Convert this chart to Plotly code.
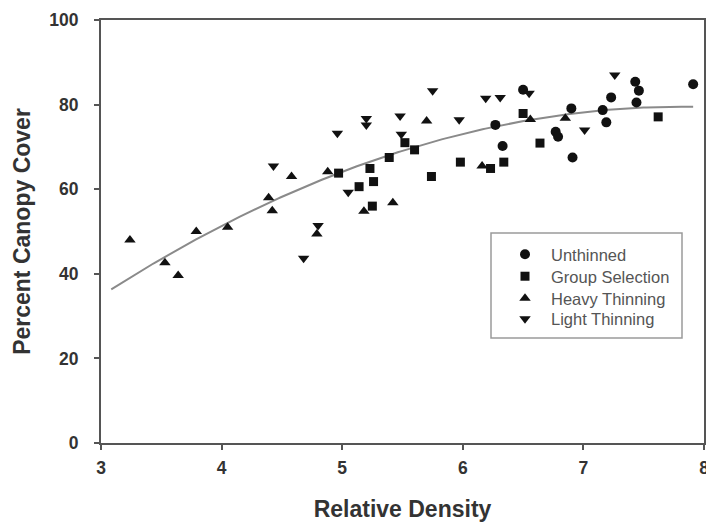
import numpy as np
import plotly.graph_objects as go

# Relative density vs. percent canopy cover, by treatment
unthinned_x = [6.27, 6.33, 6.50, 6.77, 6.79, 6.90, 6.91, 7.16, 7.19, 7.23, 7.43, 7.46, 7.44, 7.91]
unthinned_y = [75.2, 70.2, 83.5, 73.6, 72.4, 79.1, 67.5, 78.7, 75.8, 81.7, 85.4, 83.3, 80.5, 84.8]

group_x = [4.97, 5.23, 5.39, 5.26, 5.14, 5.25, 5.52, 5.60, 5.74, 5.98, 6.23, 6.34, 6.50, 6.64, 7.62]
group_y = [63.8, 64.9, 67.5, 61.8, 60.6, 56.0, 71.0, 69.3, 63.0, 66.4, 64.9, 66.4, 77.9, 70.9, 77.1]

heavy_x = [3.24, 3.53, 3.64, 3.79, 4.05, 4.39, 4.42, 4.58, 4.79, 4.88, 5.18, 5.42, 5.70, 6.16, 6.56, 6.85]
heavy_y = [48.0, 42.6, 39.6, 50.0, 51.0, 58.0, 54.9, 63.0, 49.4, 64.1, 54.8, 56.8, 76.1, 65.5, 76.5, 76.8]

light_x = [4.43, 4.68, 4.80, 4.96, 5.05, 5.20, 5.20, 5.48, 5.49, 5.75, 5.97, 6.19, 6.31, 6.55, 7.01, 7.26]
light_y = [65.5, 43.7, 51.4, 73.2, 59.3, 76.7, 75.2, 77.3, 73.0, 83.3, 76.4, 81.5, 81.7, 82.7, 74.0, 87.0]

# Quadratic regression: cover = a + b*RD + c*RD^2, drawn over the observed RD span
fit_coef = [-38.08, 30.02, -1.916]
fit_range = [3.085, 7.91]

x_ticks = [3, 4, 5, 6, 7, 8]
y_ticks = [0, 20, 40, 60, 80, 100]

series = [
    ("Unthinned", unthinned_x, unthinned_y, "circle", 10),
    ("Group Selection", group_x, group_y, "square", 9),
    ("Heavy Thinning", heavy_x, heavy_y, "triangle-up", 10),
    ("Light Thinning", light_x, light_y, "triangle-down", 10),
]

# Plot area in pixels (used to place the legend box and rows)
W, H = 706, 522
L, R, T, B = 101, 2, 20, 79
PW, PH = W - L - R, H - T - B


def px_x(p):
    return (p - L) / PW


def px_y(p):
    return (H - B - p) / PH


fig = go.Figure()

fx = np.linspace(fit_range[0], fit_range[1], 200)
fy = fit_coef[0] + fit_coef[1] * fx + fit_coef[2] * fx ** 2
fig.add_trace(go.Scatter(x=fx, y=fy, mode="lines", showlegend=False,
                         line=dict(color="#8a8a8a", width=2), hoverinfo="skip"))

legend_font = dict(family="Liberation Sans, Arial, sans-serif", size=16.5, color="#555555")
row_centers = [254.5, 276.5, 298.5, 319.0]
legend_layouts = {}
for i, (name, xs, ys, sym, size) in enumerate(series):
    key = "legend" if i == 0 else f"legend{i + 1}"
    fig.add_trace(go.Scatter(
        x=xs, y=ys, mode="markers", name=name, legend=key,
        marker=dict(symbol=sym, size=size, color="#111111", line=dict(width=0)),
    ))
    legend_layouts[key] = dict(
        x=px_x(499), y=px_y(row_centers[i]), xanchor="left", yanchor="middle",
        bgcolor="rgba(0,0,0,0)", borderwidth=0, itemwidth=42,
        font=legend_font,
    )

axis_font = dict(family="Liberation Sans, Arial, sans-serif", size=17.5, color="#333333", weight="bold")
title_font = dict(family="Liberation Sans, Arial, sans-serif", size=23, color="#333333", weight="bold")

fig.update_layout(
    width=W, height=H,
    margin=dict(l=L, r=R, t=T, b=B, autoexpand=False),
    plot_bgcolor="white", paper_bgcolor="white",
    xaxis=dict(
        range=[3, 8], tickvals=x_ticks, showgrid=False, zeroline=False,
        showline=True, linecolor="#555555", linewidth=2, mirror=True,
        ticks="outside", ticklen=5, tickwidth=1.5, tickcolor="#555555",
        tickfont=axis_font, ticklabelstandoff=3, ticklabeloverflow="allow",
        title=dict(text="Relative Density", font=title_font, standoff=27),
    ),
    yaxis=dict(
        range=[0, 100], tickvals=y_ticks, showgrid=False, zeroline=False,
        showline=True, linecolor="#555555", linewidth=2, mirror=True,
        ticks="outside", ticklen=5, tickwidth=1.5, tickcolor="#555555",
        tickfont=axis_font, ticklabelstandoff=12, ticklabeloverflow="allow",
        title=dict(text="Percent Canopy Cover", font=title_font, standoff=12),
    ),
    shapes=[dict(
        type="rect", xref="paper", yref="paper", layer="below",
        x0=px_x(491), x1=px_x(682), y0=px_y(338), y1=px_y(233),
        line=dict(color="#9a9a9a", width=1.5), fillcolor="white",
    )],
    **legend_layouts,
)

fig.write_html("out.html")
